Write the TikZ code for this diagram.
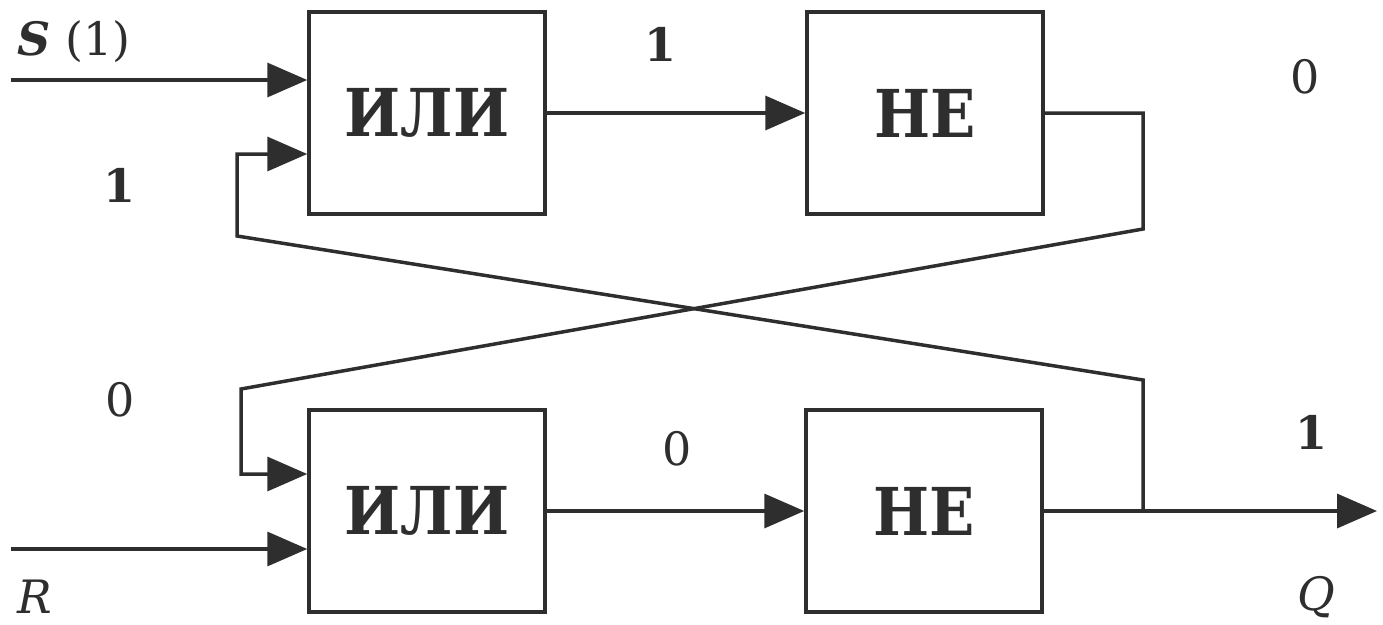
\documentclass[tikz,border=0pt]{standalone}
\usepackage{fontspec}
\setmainfont{DejaVu Serif}
\newfontfamily\gatefont[FakeStretch=0.9]{DejaVu Serif}
\usetikzlibrary{arrows.meta}
\definecolor{ink}{HTML}{2E2E2E}
\begin{document}
\begin{tikzpicture}[x=1pt,y=-1pt,
  gate/.style={draw=ink, line width=3.5pt, fill=white, minimum width=236pt, minimum height=202pt, inner sep=0pt, text=ink, font=\gatefont\fontsize{66}{66}\selectfont\bfseries},
  wire/.style={draw=ink, line width=3.5pt},
  arr/.style={wire, -{Triangle[length=40pt,width=34pt]}},
  lbl/.style={text=ink, inner sep=0pt, font=\fontsize{46}{46}\selectfont}]
\useasboundingbox (0,0) rectangle (1383,624);
\node[gate] (or1) at (427,113) {ИЛИ};
\node[gate] (not1) at (925,113) {НЕ};
\node[gate] (or2) at (427,511) {ИЛИ};
\node[gate] (not2) at (924,511) {НЕ};
\coordinate (sIn) at (11,80);
\coordinate (rIn) at (11,549);
\coordinate (qOut) at (1377,511);
\coordinate (jq) at (1143,511);
\coordinate (fa1) at (1143,380);
\coordinate (fa2) at (237,236);
\coordinate (fa3) at (237,154);
\coordinate (fb1) at (1143,229);
\coordinate (fb2) at (241,389);
\coordinate (fb3) at (241,474);
\draw[arr] (sIn) -- (sIn -| or1.west);
\draw[arr] (rIn) -- (rIn -| or2.west);
\draw[arr] (or1.east) -- (not1.west);
\draw[arr] (or2.east) -- (not2.west);
\draw[arr] (not2.east) -- (qOut);
\draw[arr] (jq) -- (fa1) -- (fa2) -- (fa3) -- (fa3 -| or1.west);
\draw[arr] (not1.east) -- (not1.east -| fb1) -- (fb1) -- (fb2) -- (fb3) -- (fb3 -| or2.west);
\node[lbl] (lS) at (74,42) {\textit{\textbf{S}} (1)};
\node[lbl] (l1a) at (660,44) {\textbf{1}};
\node[lbl] (l0a) at (1305,77) {0};
\node[lbl] (l1b) at (120,185) {\textbf{1}};
\node[lbl] (l0b) at (120,400) {0};
\node[lbl] (l0c) at (677,449) {0};
\node[lbl] (l1c) at (1311,432) {\textbf{1}};
\node[lbl] (lR) at (35,597) {\textit{R}};
\node[lbl] (lQ) at (1316,597) {\textit{Q}};
\end{tikzpicture}
\end{document}
